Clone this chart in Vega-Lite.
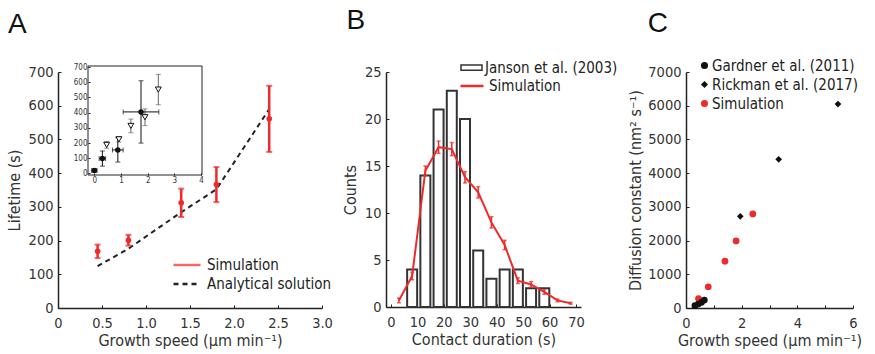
{
  "$schema": "https://vega.github.io/schema/vega-lite/v6.json",
  "padding": {"left": 6, "top": 7, "right": 0, "bottom": 0},
  "spacing": 9,
  "resolve": {
    "scale": {"color": "independent", "stroke": "independent", "fill": "independent", "shape": "independent"},
    "legend": {"color": "independent", "stroke": "independent", "fill": "independent", "shape": "independent"}
  },
  "config": {
    "font": "DejaVu Sans Condensed",
    "view": {"stroke": null},
    "axis": {
      "domainColor": "#222", "domainWidth": 1.5, "tickColor": "#222", "tickSize": -3, "tickWidth": 1,
      "labelFontSize": 14.5, "labelColor": "#333", "labelPadding": 8,
      "titleFontSize": 16, "titleColor": "#333", "titleFontWeight": "normal", "titlePadding": 6,
      "grid": false, "labelFlush": false, "labelOverlap": false
    },
    "axisX": {"labelPadding": 11, "titlePadding": 3},
    "legend": {"orient": "none", "title": null, "labelFontSize": 15, "labelColor": "#222", "padding": 0},
    "title": {"fontSize": 28, "fontWeight": "normal", "anchor": "start", "color": "#111", "font": "Liberation Sans", "frame": "bounds"}
  },
  "datasets": {
    "simA": [
      {"speed": 0.45, "lifetime": 168, "err": 20, "model": "Simulation"},
      {"speed": 0.8, "lifetime": 201, "err": 16, "model": "Simulation"},
      {"speed": 1.4, "lifetime": 312, "err": 42, "model": "Simulation"},
      {"speed": 1.8, "lifetime": 366, "err": 52, "model": "Simulation"},
      {"speed": 2.4, "lifetime": 561, "err": 98, "model": "Simulation"}
    ],
    "anaA": [
      {"speed": 0.45, "lifetime": 124, "model": "Analytical solution"},
      {"speed": 0.8, "lifetime": 176, "model": "Analytical solution"},
      {"speed": 1.4, "lifetime": 284, "model": "Analytical solution"},
      {"speed": 1.8, "lifetime": 352, "model": "Analytical solution"},
      {"speed": 2.4, "lifetime": 590, "model": "Analytical solution"}
    ],
    "insetCirc": [
      {"v": 0, "t": 20, "ve": 0.1, "te": 10},
      {"v": 0.3, "t": 98, "ve": 0.12, "te": 50},
      {"v": 0.88, "t": 155, "ve": 0.2, "te": 80},
      {"v": 1.75, "t": 405, "ve": 0.67, "te": 205}
    ],
    "insetTri": [
      {"v": 0.46, "t": 188, "te": 22},
      {"v": 0.92, "t": 225, "te": 18},
      {"v": 1.37, "t": 313, "te": 45},
      {"v": 1.9, "t": 370, "te": 55},
      {"v": 2.4, "t": 552, "te": 100}
    ],
    "hist": [
      {"duration": 8, "count": 4, "hsrc": "Janson et al. (2003)"},
      {"duration": 13, "count": 14, "hsrc": "Janson et al. (2003)"},
      {"duration": 18, "count": 21, "hsrc": "Janson et al. (2003)"},
      {"duration": 23, "count": 23, "hsrc": "Janson et al. (2003)"},
      {"duration": 28, "count": 20, "hsrc": "Janson et al. (2003)"},
      {"duration": 33, "count": 6, "hsrc": "Janson et al. (2003)"},
      {"duration": 38, "count": 3, "hsrc": "Janson et al. (2003)"},
      {"duration": 43, "count": 4, "hsrc": "Janson et al. (2003)"},
      {"duration": 48, "count": 4, "hsrc": "Janson et al. (2003)"},
      {"duration": 53, "count": 2, "hsrc": "Janson et al. (2003)"},
      {"duration": 58, "count": 2, "hsrc": "Janson et al. (2003)"}
    ],
    "simB": [
      {"duration": 3, "count": 0.7, "err": 0.25, "ssrc": "Simulation"},
      {"duration": 8, "count": 3.3, "err": 0.4, "ssrc": "Simulation"},
      {"duration": 13, "count": 14.5, "err": 0.5, "ssrc": "Simulation"},
      {"duration": 18, "count": 17.0, "err": 0.65, "ssrc": "Simulation"},
      {"duration": 23, "count": 16.8, "err": 0.7, "ssrc": "Simulation"},
      {"duration": 28, "count": 13.8, "err": 0.6, "ssrc": "Simulation"},
      {"duration": 33, "count": 12.2, "err": 0.6, "ssrc": "Simulation"},
      {"duration": 38, "count": 9.0, "err": 0.6, "ssrc": "Simulation"},
      {"duration": 43, "count": 6.6, "err": 0.5, "ssrc": "Simulation"},
      {"duration": 48, "count": 2.8, "err": 0.3, "ssrc": "Simulation"},
      {"duration": 53, "count": 2.4, "err": 0.3, "ssrc": "Simulation"},
      {"duration": 58, "count": 1.6, "err": 0.25, "ssrc": "Simulation"},
      {"duration": 63, "count": 0.7, "err": 0.15, "ssrc": "Simulation"},
      {"duration": 68, "count": 0.4, "err": 0.1, "ssrc": "Simulation"}
    ],
    "pointsC": [
      {"speed": 0.45, "D": 280, "source": "Simulation"},
      {"speed": 0.8, "D": 630, "source": "Simulation"},
      {"speed": 1.4, "D": 1390, "source": "Simulation"},
      {"speed": 1.8, "D": 1990, "source": "Simulation"},
      {"speed": 2.4, "D": 2790, "source": "Simulation"},
      {"speed": 0.32, "D": 68, "source": "Gardner et al. (2011)"},
      {"speed": 0.44, "D": 119, "source": "Gardner et al. (2011)"},
      {"speed": 0.56, "D": 169, "source": "Gardner et al. (2011)"},
      {"speed": 0.66, "D": 237, "source": "Gardner et al. (2011)"},
      {"speed": 1.95, "D": 2720, "source": "Rickman et al. (2017)"},
      {"speed": 3.33, "D": 4410, "source": "Rickman et al. (2017)"},
      {"speed": 5.46, "D": 6050, "source": "Rickman et al. (2017)"}
    ]
  },
  "hconcat": [
    {
      "width": 264, "height": 236,
      "title": {"text": "A", "offset": 24, "dx": 2},
      "layer": [
        {
          "layer": [
            {
              "data": {"name": "anaA"},
              "mark": {"type": "line", "strokeDash": [5, 4], "strokeWidth": 2},
              "encoding": {
                "x": {"field": "speed", "type": "quantitative", "scale": {"domain": [0, 3], "nice": false},
                  "axis": {"title": "Growth speed (µm min⁻¹)", "values": [0, 0.5, 1, 1.5, 2, 2.5, 3], "labelExpr": "datum.value == 0 ? '0' : format(datum.value, '.1f')"}},
                "y": {"field": "lifetime", "type": "quantitative", "scale": {"domain": [0, 700], "nice": false},
                  "axis": {"title": "Lifetime (s)", "values": [0, 100, 200, 300, 400, 500, 600, 700], "format": "d"}},
                "stroke": {"field": "model", "type": "nominal", "scale": {"range": ["#222"]},
                  "legend": {"symbolType": "stroke", "symbolDash": [5, 4], "symbolStrokeWidth": 2.5, "symbolSize": 729, "legendX": 114, "legendY": 197, "labelOffset": 5}}
              }
            },
            {
              "data": {"name": "simA"},
              "mark": {"type": "errorbar", "ticks": {"size": 6, "thickness": 2}, "thickness": 2.5},
              "encoding": {
                "x": {"field": "speed", "type": "quantitative",
                  "axis": {"title": "Growth speed (µm min⁻¹)", "values": [0, 0.5, 1, 1.5, 2, 2.5, 3], "labelExpr": "datum.value == 0 ? '0' : format(datum.value, '.1f')"}},
                "y": {"field": "lifetime", "type": "quantitative",
                  "axis": {"title": "Lifetime (s)", "values": [0, 100, 200, 300, 400, 500, 600, 700], "format": "d"}},
                "yError": {"field": "err"},
                "color": {"field": "model", "type": "nominal", "scale": {"range": ["#ee2a2a"]},
                  "legend": {"symbolType": "stroke", "symbolStrokeWidth": 2.5, "symbolSize": 729, "legendX": 114, "legendY": 178, "labelOffset": 5}}
              }
            },
            {
              "data": {"name": "simA"},
              "mark": {"type": "point", "filled": true, "size": 32, "opacity": 1, "color": "#ee2a2a"},
              "encoding": {
                "x": {"field": "speed", "type": "quantitative",
                  "axis": {"title": "Growth speed (µm min⁻¹)", "values": [0, 0.5, 1, 1.5, 2, 2.5, 3], "labelExpr": "datum.value == 0 ? '0' : format(datum.value, '.1f')"}},
                "y": {"field": "lifetime", "type": "quantitative",
                  "axis": {"title": "Lifetime (s)", "values": [0, 100, 200, 300, 400, 500, 600, 700], "format": "d"}}
              }
            }
          ]
        },
        {
          "layer": [
            {
              "data": {"values": [{}]},
              "mark": {"type": "rect", "filled": false, "stroke": "#222", "strokeWidth": 1},
              "encoding": {
                "x": {"datum": -0.24, "type": "quantitative",
                  "scale": {"domain": [-0.24, 4.04], "range": [30, 144], "nice": false, "zero": false},
                  "axis": {"orient": "bottom", "offset": -133, "values": [0, 1, 2, 3, 4], "format": "d", "labelFontSize": 8, "tickSize": -2, "labelPadding": 3, "title": null, "domain": false, "zindex": 1}},
                "x2": {"datum": 4.04},
                "y": {"datum": -10, "type": "quantitative",
                  "scale": {"domain": [-10, 707], "range": [103, -6], "nice": false, "zero": false},
                  "axis": {"orient": "left", "offset": -30, "values": [0, 100, 200, 300, 400, 500, 600, 700], "format": "d", "labelFontSize": 8, "tickSize": -2, "labelPadding": 3, "title": null, "domain": false, "zindex": 1}},
                "y2": {"datum": 707}
              }
            },
            {
              "data": {"name": "insetTri"},
              "mark": {"type": "errorbar", "ticks": {"size": 5}, "color": "#666", "thickness": 1},
              "encoding": {
                "x": {"field": "v", "type": "quantitative",
                  "axis": {"orient": "bottom", "offset": -133, "values": [0, 1, 2, 3, 4], "format": "d", "labelFontSize": 8, "tickSize": -2, "labelPadding": 3, "title": null, "domain": false, "zindex": 1}},
                "y": {"field": "t", "type": "quantitative",
                  "axis": {"orient": "left", "offset": -30, "values": [0, 100, 200, 300, 400, 500, 600, 700], "format": "d", "labelFontSize": 8, "tickSize": -2, "labelPadding": 3, "title": null, "domain": false, "zindex": 1}},
                "yError": {"field": "te"}
              }
            },
            {
              "data": {"name": "insetCirc"},
              "mark": {"type": "errorbar", "ticks": {"size": 5}, "color": "#111", "thickness": 1},
              "encoding": {
                "x": {"field": "v", "type": "quantitative",
                  "axis": {"orient": "bottom", "offset": -133, "values": [0, 1, 2, 3, 4], "format": "d", "labelFontSize": 8, "tickSize": -2, "labelPadding": 3, "title": null, "domain": false, "zindex": 1}},
                "y": {"field": "t", "type": "quantitative",
                  "axis": {"orient": "left", "offset": -30, "values": [0, 100, 200, 300, 400, 500, 600, 700], "format": "d", "labelFontSize": 8, "tickSize": -2, "labelPadding": 3, "title": null, "domain": false, "zindex": 1}},
                "yError": {"field": "te"}
              }
            },
            {
              "data": {"name": "insetCirc"},
              "mark": {"type": "errorbar", "ticks": {"size": 5}, "color": "#111", "thickness": 1},
              "encoding": {
                "y": {"field": "t", "type": "quantitative",
                  "axis": {"orient": "left", "offset": -30, "values": [0, 100, 200, 300, 400, 500, 600, 700], "format": "d", "labelFontSize": 8, "tickSize": -2, "labelPadding": 3, "title": null, "domain": false, "zindex": 1}},
                "x": {"field": "v", "type": "quantitative",
                  "axis": {"orient": "bottom", "offset": -133, "values": [0, 1, 2, 3, 4], "format": "d", "labelFontSize": 8, "tickSize": -2, "labelPadding": 3, "title": null, "domain": false, "zindex": 1}},
                "xError": {"field": "ve"}
              }
            },
            {
              "data": {"name": "insetTri"},
              "mark": {"type": "point", "shape": "triangle-down", "fill": "white", "filled": true, "stroke": "#111", "strokeWidth": 1, "size": 35, "opacity": 1},
              "encoding": {
                "x": {"field": "v", "type": "quantitative",
                  "axis": {"orient": "bottom", "offset": -133, "values": [0, 1, 2, 3, 4], "format": "d", "labelFontSize": 8, "tickSize": -2, "labelPadding": 3, "title": null, "domain": false, "zindex": 1}},
                "y": {"field": "t", "type": "quantitative",
                  "axis": {"orient": "left", "offset": -30, "values": [0, 100, 200, 300, 400, 500, 600, 700], "format": "d", "labelFontSize": 8, "tickSize": -2, "labelPadding": 3, "title": null, "domain": false, "zindex": 1}}
              }
            },
            {
              "data": {"name": "insetCirc"},
              "mark": {"type": "point", "filled": true, "color": "#111", "size": 30, "opacity": 1},
              "encoding": {
                "x": {"field": "v", "type": "quantitative",
                  "axis": {"orient": "bottom", "offset": -133, "values": [0, 1, 2, 3, 4], "format": "d", "labelFontSize": 8, "tickSize": -2, "labelPadding": 3, "title": null, "domain": false, "zindex": 1}},
                "y": {"field": "t", "type": "quantitative",
                  "axis": {"orient": "left", "offset": -30, "values": [0, 100, 200, 300, 400, 500, 600, 700], "format": "d", "labelFontSize": 8, "tickSize": -2, "labelPadding": 3, "title": null, "domain": false, "zindex": 1}}
              }
            }
          ]
        }
      ],
      "resolve": {"scale": {"x": "independent", "y": "independent"}}
    },
    {
      "width": 195, "height": 235,
      "title": {"text": "B", "offset": 21, "dx": 4},
      "layer": [
        {
          "data": {"name": "hist"},
          "mark": {"type": "bar", "width": 10, "stroke": "#333", "strokeWidth": 2},
          "encoding": {
            "x": {"field": "duration", "type": "quantitative", "scale": {"domain": [0, 70], "nice": false},
              "axis": {"title": "Contact duration (s)", "values": [0, 10, 20, 30, 40, 50, 60, 70]}},
            "y": {"field": "count", "type": "quantitative", "scale": {"domain": [0, 25], "nice": false},
              "axis": {"title": "Counts", "values": [0, 5, 10, 15, 20, 25]}},
            "fill": {"field": "hsrc", "type": "nominal", "scale": {"range": ["white"]},
              "legend": {"symbolType": "M-1,-0.25H1V0.25H-1Z", "symbolSize": 441, "symbolStrokeColor": "#333", "symbolStrokeWidth": 1.5, "legendX": 74, "legendY": -16, "labelOffset": 2}}
          }
        },
        {
          "data": {"name": "simB"},
          "mark": {"type": "line", "strokeWidth": 2},
          "encoding": {
            "x": {"field": "duration", "type": "quantitative",
              "axis": {"title": "Contact duration (s)", "values": [0, 10, 20, 30, 40, 50, 60, 70]}},
            "y": {"field": "count", "type": "quantitative",
              "axis": {"title": "Counts", "values": [0, 5, 10, 15, 20, 25]}},
            "stroke": {"field": "ssrc", "type": "nominal", "scale": {"range": ["#ee2a2a"]},
              "legend": {"symbolType": "stroke", "symbolStrokeWidth": 2.5, "symbolSize": 529, "legendX": 73, "legendY": 1, "labelOffset": 4}}
          }
        },
        {
          "data": {"name": "simB"},
          "mark": {"type": "errorbar", "ticks": {"size": 4, "thickness": 1.5}, "color": "#ee2a2a", "thickness": 1.5},
          "encoding": {
            "x": {"field": "duration", "type": "quantitative",
              "axis": {"title": "Contact duration (s)", "values": [0, 10, 20, 30, 40, 50, 60, 70]}},
            "y": {"field": "count", "type": "quantitative",
              "axis": {"title": "Counts", "values": [0, 5, 10, 15, 20, 25]}},
            "yError": {"field": "err"}
          }
        }
      ]
    },
    {
      "width": 167, "height": 236,
      "title": {"text": "C", "offset": 20, "dx": 20},
      "data": {"name": "pointsC"},
      "mark": {"type": "point", "filled": true, "opacity": 1, "size": 45},
      "encoding": {
        "x": {"field": "speed", "type": "quantitative", "scale": {"domain": [0, 6], "nice": false},
          "axis": {"title": "Growth speed (µm min⁻¹)", "values": [0, 1, 2, 3, 4, 5, 6], "labelExpr": "datum.value % 2 == 0 ? datum.label : ''"}},
        "y": {"field": "D", "type": "quantitative", "scale": {"domain": [0, 7000], "nice": false},
          "axis": {"title": "Diffusion constant (nm² s⁻¹)", "values": [0, 1000, 2000, 3000, 4000, 5000, 6000, 7000], "format": "d", "titlePadding": 4}},
        "color": {"field": "source", "type": "nominal",
          "scale": {"domain": ["Gardner et al. (2011)", "Rickman et al. (2017)", "Simulation"], "range": ["#111", "#111", "#ee2a2a"]},
          "legend": {"legendX": 11, "legendY": -14, "labelOffset": 0, "symbolSize": 50, "rowPadding": 3}},
        "shape": {"field": "source", "type": "nominal",
          "scale": {"domain": ["Gardner et al. (2011)", "Rickman et al. (2017)", "Simulation"], "range": ["circle", "diamond", "circle"]}}
      }
    }
  ]
}
